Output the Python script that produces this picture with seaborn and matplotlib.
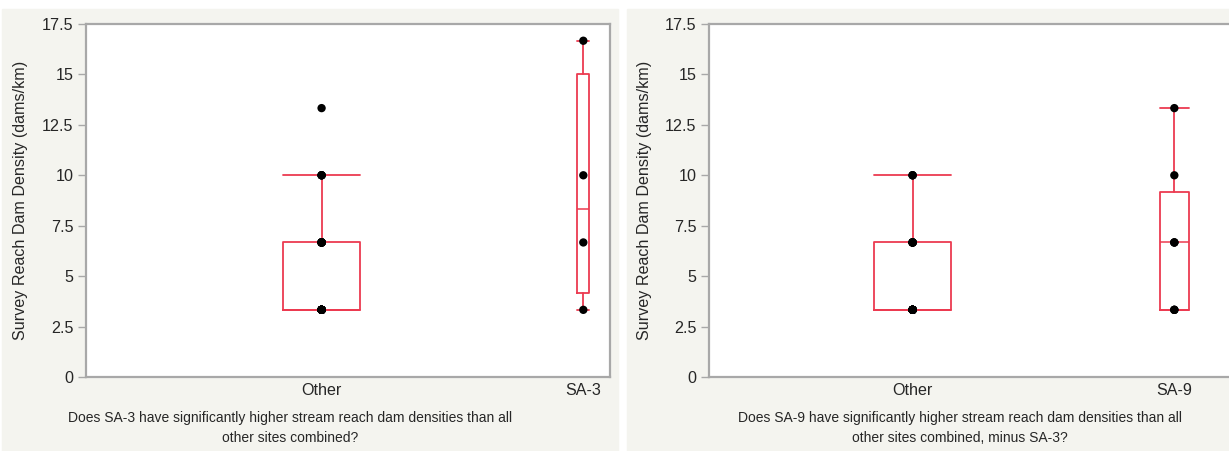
import numpy as np
import pandas as pd
import matplotlib
matplotlib.use("Agg")
import matplotlib.pyplot as plt
from matplotlib.patches import Rectangle
import seaborn as sns

# ---------------- data ----------------
sa3_values = [3.33, 6.67, 10.0, 16.67]
sa9_values = [3.33, 3.33, 3.33, 6.67, 6.67, 6.67, 10.0, 13.33]
rest_values = [3.33, 3.33, 3.33, 3.33, 3.33, 3.33, 3.33, 3.33, 3.33,
               3.33, 3.33, 3.33, 3.33, 3.33, 3.33, 3.33, 3.33, 3.33,
               6.67, 6.67, 6.67, 6.67, 6.67, 6.67, 6.67,
               10.0, 10.0, 10.0]
other_all_values = rest_values + sa9_values          # all sites except SA-3

left_groups = ["Other", "SA-3"]
right_groups = ["Other", "SA-9"]
y_ticks = [0, 2.5, 5, 7.5, 10, 12.5, 15, 17.5]
y_label = "Survey Reach Dam Density (dams/km)"
left_xlabel = ("Does SA-3 have significantly higher stream reach dam densities than all\n"
               "other sites combined?")
right_xlabel = ("Does SA-9 have significantly higher stream reach dam densities than all\n"
                "other sites combined, minus SA-3?")

# ---------------- style ----------------
sns.set_style("white")
plt.rcParams["font.family"] = ["Liberation Sans", "DejaVu Sans"]
RED = "#ec3a50"
GRAY = "#a8a8a8"
PANEL_BG = "#f4f4ef"
FS = 11.6
FS_XL = 10.0

W, H = 1229, 451
fig = plt.figure(figsize=(W / 100, H / 100), dpi=100)
fig.patch.set_facecolor("white")
fig.patches.append(Rectangle((2 / W, 0), 616 / W, (H - 9) / H,
                             transform=fig.transFigure, color=PANEL_BG, zorder=-10))
fig.patches.append(Rectangle((627 / W, 0), 602 / W, (H - 9) / H,
                             transform=fig.transFigure, color=PANEL_BG, zorder=-10))


def box_stats(vals):
    v = np.sort(np.asarray(vals, dtype=float))
    q1, med, q3 = np.percentile(v, [25, 50, 75], method="weibull")
    iqr = q3 - q1
    lo = v[v >= q1 - 1.5 * iqr].min()
    hi = v[v <= q3 + 1.5 * iqr].max()
    return dict(med=med, q1=q1, q3=q3, whislo=lo, whishi=hi, fliers=[])


def draw_panel(ax, names, groups, box_widths, xlabel, xlabel_x, ylabel_x):
    counts = [len(g) for g in groups]
    starts = np.concatenate([[0], np.cumsum(counts)[:-1]])
    centers = starts + np.array(counts) / 2.0
    total = sum(counts)

    stats = [box_stats(g) for g in groups]
    ax.bxp(stats, positions=centers, widths=box_widths, capwidths=box_widths,
           showfliers=False, manage_ticks=False,
           boxprops=dict(color=RED, lw=1.3),
           whiskerprops=dict(color=RED, lw=1.3),
           capprops=dict(color=RED, lw=1.3),
           medianprops=dict(color=RED, lw=1.1))

    df = pd.DataFrame({
        "pos": np.concatenate([[c] * n for c, n in zip(centers, counts)]),
        "value": np.concatenate(groups),
    })
    sns.scatterplot(data=df, x="pos", y="value", ax=ax, color="black",
                    s=36, edgecolor="none", zorder=4, legend=False)

    ax.set_xlim(0, total)
    ax.set_ylim(0, 17.5)
    ax.set_yticks(y_ticks, labels=[f"{t:g}" for t in y_ticks], fontsize=FS)
    ax.set_xticks(centers, labels=names, fontsize=FS)
    ax.set_xticks(starts[1:], minor=True)
    ax.tick_params(axis="x", which="major", length=0, pad=4)
    ax.tick_params(axis="x", which="minor", length=7, width=1, color=GRAY, direction="out")
    ax.tick_params(axis="y", length=6, width=1, color=GRAY, direction="out", pad=3, left=True)
    for s in ax.spines.values():
        s.set_visible(True)
        s.set_color(GRAY)
        s.set_linewidth(1.6)
    ax.set_facecolor("white")
    ax.set_ylabel(y_label, fontsize=FS)
    ax.yaxis.set_label_coords(ylabel_x, 0.5)
    ax.set_xlabel(xlabel, fontsize=FS_XL, linespacing=1.55)
    ax.xaxis.set_label_coords(xlabel_x, -0.095)
    ax.grid(False)


ax_w = 523.5 / W
ax_b = (H - 377) / H
ax_h = 353 / H
axL = fig.add_axes([86 / W, ax_b, ax_w, ax_h])
axR = fig.add_axes([709 / W, ax_b, ax_w, ax_h])

draw_panel(axL, left_groups, [other_all_values, sa3_values], [5.86, 0.92],
           left_xlabel, 0.39, -0.111)
draw_panel(axR, right_groups, [rest_values, sa9_values], [5.29, 2.04],
           right_xlabel, 0.48, -0.109)

fig.savefig("out.png", dpi=100, facecolor="white")
